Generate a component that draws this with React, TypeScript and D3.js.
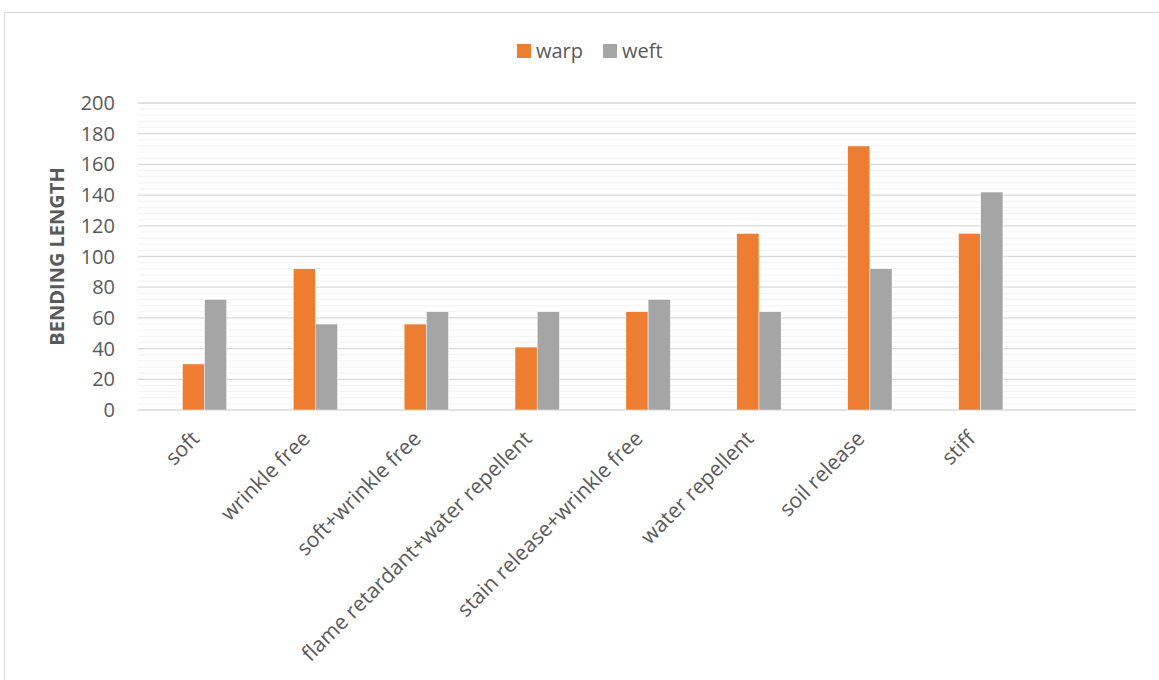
import React from 'react';
import * as d3 from 'd3';

// bending length per finish
const categories = [
  'soft',
  'wrinkle free',
  'soft+wrinkle free',
  'flame retardant+water repellent',
  'stain release+wrinkle free',
  'water repellent',
  'soil release',
  'stiff',
];
const warp = [30, 92, 56, 41, 64, 115, 172, 115];
const weft = [72, 56, 64, 64, 72, 64, 92, 142];
const seriesNames = ['warp', 'weft'];
const seriesColors = ['#ED7D31', '#A5A5A5'];
const yTicks = [0, 20, 40, 60, 80, 100, 120, 140, 160, 180, 200];

const W = 1159;
const H = 680;
const margin = { top: 103, right: 23, bottom: 270, left: 138 };
const font = '"Open Sans", "Liberation Sans", sans-serif';

const App = () => {
  const innerH = H - margin.top - margin.bottom;

  // excel leaves an empty slot at the end and an empty first series in each group
  const x0 = d3.scaleBand()
    .domain([...categories, '__empty'])
    .range([margin.left, W - margin.right])
    .paddingInner(0.4)
    .paddingOuter(0.2);
  const x1 = d3.scaleBand()
    .domain(['__blank', ...seriesNames])
    .range([0, x0.bandwidth()]);
  const y = d3.scaleLinear()
    .domain([0, 200])
    .range([margin.top + innerH, margin.top]);

  const minorTicks = d3.range(0, 201, 4).filter(v => v % 20 !== 0);
  const values = [warp, weft];

  return (
    <svg width={W} height={H} style={{ position: 'absolute', left: 0, top: 0, background: '#fff' }}>
      <rect x={4.5} y={12.5} width={W} height={H} fill="#fff" stroke="#d9d9d9" />

      {/* legend */}
      <g fontFamily={font} fontSize={20} fill="#595959">
        {seriesNames.map((s, i) => (
          <g key={s} transform={`translate(${517 + i * 86},44)`}>
            <rect width={14} height={14} fill={seriesColors[i]} />
            <text x={19} y={14}>{s}</text>
          </g>
        ))}
      </g>

      {/* gridlines */}
      {minorTicks.map(t => (
        <line key={'m' + t} x1={margin.left} x2={W - margin.right} y1={y(t)} y2={y(t)} stroke="#f2f2f2" strokeWidth={1} />
      ))}
      {yTicks.map(t => (
        <line key={'g' + t} x1={margin.left} x2={W - margin.right} y1={y(t)} y2={y(t)} stroke="#d9d9d9" strokeWidth={1.3} />
      ))}

      {/* y tick labels */}
      <g fontFamily={font} fontSize={20} fill="#595959" textAnchor="end">
        {yTicks.map(t => (
          <text key={t} x={115} y={y(t)} dy="0.35em">{t}</text>
        ))}
      </g>

      <text
        transform={`translate(64,${margin.top + innerH / 2}) rotate(-90)`}
        textAnchor="middle"
        fontFamily={font}
        fontWeight="bold"
        fontSize={20}
        fill="#595959"
      >BENDING LENGTH</text>

      {/* bars */}
      {categories.map((c, ci) => (
        <g key={c} transform={`translate(${x0(c)},0)`}>
          {seriesNames.map((s, si) => (
            <rect
              key={s}
              x={x1(s)}
              y={y(values[si][ci])}
              width={x1.bandwidth()}
              height={y(0) - y(values[si][ci])}
              fill={seriesColors[si]}
              stroke="#fff"
              strokeWidth={0.5}
            />
          ))}
        </g>
      ))}

      {/* category labels */}
      <g fontFamily={font} fontSize={21} fill="#595959" textAnchor="end">
        {categories.map(c => {
          const cx = (x0(c) as number) + x0.bandwidth() / 2;
          return (
            <text key={c} transform={`translate(${cx + 7},${y(0) + 30}) rotate(-45)`}>{c}</text>
          );
        })}
      </g>
    </svg>
  );
};

export default App;
